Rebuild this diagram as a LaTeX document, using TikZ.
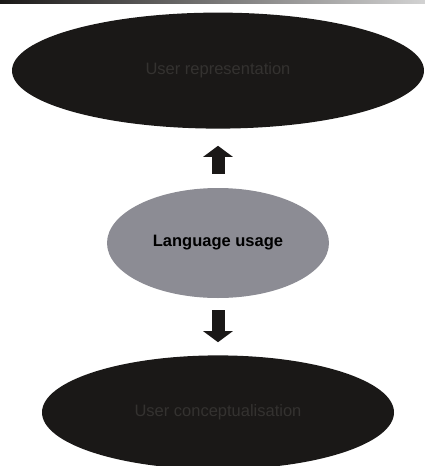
\documentclass[tikz,border=0pt]{standalone}
\usepackage{fontspec}
\setmainfont{Liberation Sans}
\usetikzlibrary{arrows.meta,positioning,shapes.geometric}
\definecolor{inkdark}{RGB}{26,24,23}
\definecolor{inktext}{RGB}{52,50,48}
\definecolor{midgrey}{RGB}{140,140,148}

\begin{document}
\begin{tikzpicture}[x=1pt,y=1pt,
   dark/.style={ellipse,fill=inkdark,text=inktext,inner sep=0pt,
                font=\fontsize{16.5}{18}\selectfont},
   light/.style={ellipse,fill=midgrey,text=black,inner sep=0pt,
                 font=\bfseries\fontsize{16.5}{18}\selectfont},
   blockarrow/.style={line width=13pt,-{Triangle[length=11pt,width=29pt]},inkdark}]
  \useasboundingbox (0,0) rectangle (425,-466);
  \shade[left color=inkdark,right color=gray!35] (0,0) rectangle (425,-3);
  \node[light,minimum width=222pt,minimum height=110pt] (usage) at (218,-243) {Language usage};
  \node[dark,minimum width=412pt,minimum height=116pt,above=59pt of usage] (repr) {User representation};
  \node[dark,minimum width=352pt,minimum height=114pt,below=57pt of usage] (concept) {User conceptualisation};
  \draw[blockarrow,shorten <=14pt,shorten >=17pt] (usage) -- (repr);
  \draw[blockarrow,shorten <=12pt,shorten >=13pt] (usage) -- (concept);
\end{tikzpicture}
\end{document}
